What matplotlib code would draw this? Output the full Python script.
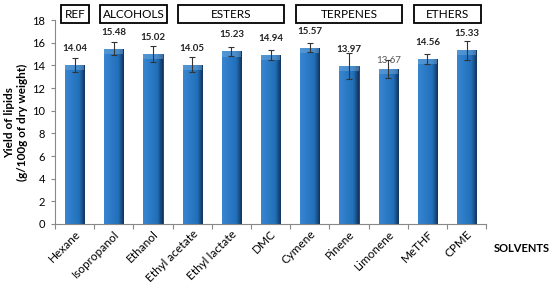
import matplotlib
matplotlib.use("Agg")
import matplotlib.pyplot as plt
import numpy as np
from matplotlib.patches import Rectangle

solvents = ["Hexane", "Isopropanol", "Ethanol", "Ethyl acetate", "Ethyl lactate",
            "DMC", "Cymene", "Pinene", "Limonene", "MeTHF", "CPME"]
yields = [14.04, 15.48, 15.02, 14.05, 15.23, 14.94, 15.57, 13.97, 13.67, 14.56, 15.33]
errors = [0.63, 0.57, 0.70, 0.65, 0.40, 0.45, 0.42, 1.15, 0.80, 0.47, 0.85]
groups = ["REF", "ALCOHOLS", "ESTERS", "TERPENES", "ETHERS"]
group_spans = [(0, 0), (1, 2), (3, 5), (6, 8), (9, 10)]
yticks = [0, 2, 4, 6, 8, 10, 12, 14, 16, 18]

plt.rcParams['font.family'] = ['Lato', 'DejaVu Sans']

fig = plt.figure(figsize=(5.5, 2.93), dpi=100)
ax = fig.add_axes([0.1, 0.2355, 0.784, 0.6962])

x = np.arange(len(solvents))
bars = ax.bar(x, yields, width=0.49, color="#236FB5", edgecolor="#12375C",
              linewidth=0.6, zorder=2)

# gradient shading to mimic the bevelled bars
grad = np.linspace(0, 1, 64)
cols = np.array([[0.22, 0.52, 0.82], [0.13, 0.44, 0.73], [0.07, 0.20, 0.36]])
def colorize(t):
    out = np.zeros((1, len(t), 3))
    for i, v in enumerate(t):
        if v < 0.72:
            c = cols[0] + (cols[1] - cols[0]) * (v / 0.72)
        else:
            c = cols[1] + (cols[2] - cols[1]) * ((v - 0.72) / 0.28)
        out[0, i] = c
    return out
img = colorize(grad)
for b in bars:
    x0, w, h = b.get_x(), b.get_width(), b.get_height()
    im = ax.imshow(img, extent=[x0, x0 + w, 0, h], aspect='auto', zorder=2.5,
                   interpolation='bilinear')
    im.set_clip_path(b)
    ax.add_patch(Rectangle((x0, h - 0.45), w, 0.45, facecolor="#6FA8DC",
                           edgecolor='none', zorder=2.6, alpha=0.5))

ax.errorbar(x, yields, yerr=errors, fmt='none', ecolor='#333333',
            elinewidth=0.8, capsize=2.2, capthick=0.8, zorder=3)

for i, (xi, v) in enumerate(zip(x, yields)):
    if solvents[i] == "Limonene":
        ax.text(xi, v + 0.75, f"{v:.2f}", ha='center', va='center', fontsize=7,
                color='#555555', zorder=4)
    else:
        ax.text(xi, v + 1.45, f"{v:.2f}", ha='center', va='center', fontsize=7,
                fontweight='bold', color='#222222', zorder=4)

ax.set_xlim(-0.5, len(solvents) - 0.5)
ax.set_ylim(0, 18)
ax.set_yticks(yticks)
ax.tick_params(axis='y', labelsize=8, length=3, color='#888888', pad=4)

ax.set_xticks(np.arange(-0.5, len(solvents), 1.0))
ax.set_xticklabels([])
ax.tick_params(axis='x', which='major', length=3.5, color='#888888')
ax.set_xticks(x, minor=True)
ax.set_xticklabels(solvents, minor=True, rotation=45, ha='right',
                   rotation_mode='anchor', fontsize=8.5)
ax.tick_params(axis='x', which='minor', length=0, pad=3)

for s in ['top', 'right']:
    ax.spines[s].set_visible(False)
for s in ['left', 'bottom']:
    ax.spines[s].set_color('#888888')
    ax.spines[s].set_linewidth(0.8)

ax.set_ylabel("Yield of lipids\n(g/100g of dry weight)", fontsize=8.5,
              fontweight='bold', labelpad=3, linespacing=1.2)

fig.text(0.897, 0.153, "SOLVENTS", fontsize=8, fontweight='bold', ha='left',
         va='center')

# group boxes
for name, (a, b) in zip(groups, group_spans):
    left = a - 0.5 + 0.15 if a == b else a - 0.5 + 0.15
    right = b + 0.5 - (0.14 if a == b else 0.15)
    if name == "ETHERS":
        right = b + 0.37
    r = Rectangle((left, 17.7), right - left, 1.65, facecolor='white',
                  edgecolor='black', linewidth=1.3, clip_on=False, zorder=5)
    ax.add_patch(r)
    ax.text((left + right) / 2, 17.7 + 0.82, name, ha='center', va='center',
            fontsize=8.5, zorder=6, clip_on=False)

fig.savefig("out.png", dpi=100)
